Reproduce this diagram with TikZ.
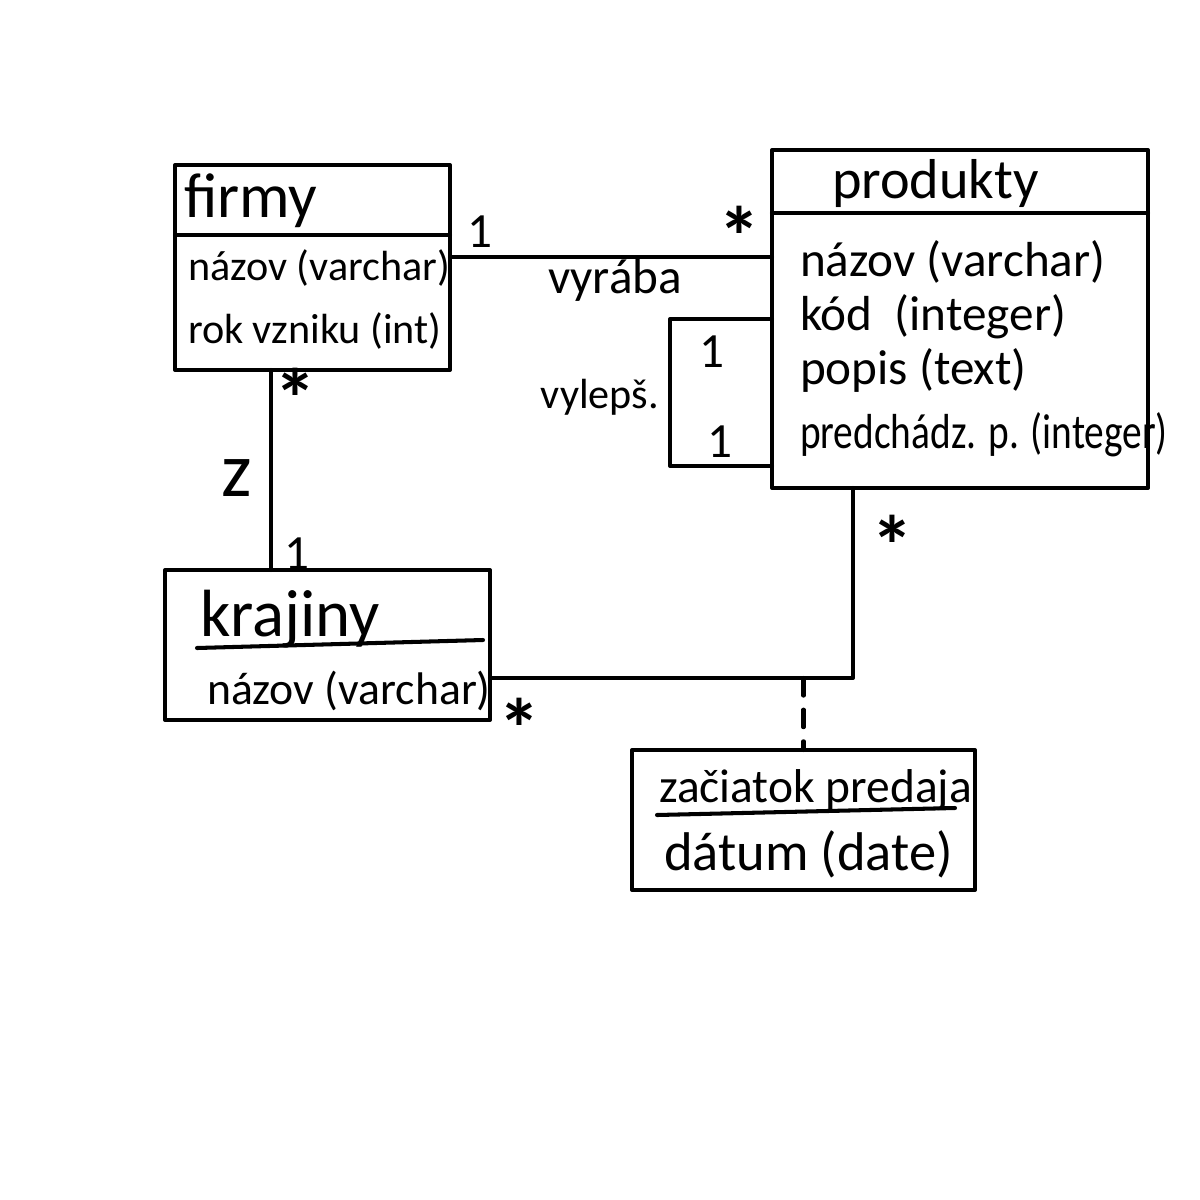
\documentclass[tikz,border=0pt]{standalone}
\usepackage{fontspec}
\setmainfont{Carlito}
\usetikzlibrary{calc}
\newcommand{\fs}[1]{\fontsize{#1}{#1}\selectfont}
\begin{document}
\begin{tikzpicture}[
  line width=1.15pt, line join=round, line cap=round,
  entity/.style={draw, rectangle, inner sep=0pt, outer sep=0pt, anchor=north west},
  label/.style={anchor=base west, inner sep=0pt},
  mult/.style={inner sep=0pt, font=\fs{14}},
  star/.style={inner sep=0pt, font=\fs{24}\bfseries},
  rel/.style={inner sep=0pt, font=\fs{14}}]

% canvas
\fill[white] (0,0) rectangle (12,-12);
\useasboundingbox (0,0) rectangle (12,-12);

% ---- entity: firmy ----
\node[entity, minimum width=2.75cm, minimum height=2.05cm] (firmy) at (1.75,-1.65) {};
\draw ($(firmy.north west)+(0,-0.70)$) -- ($(firmy.north east)+(0,-0.70)$);
\node[label, font=\fs{18}] (firmyT) at (1.82,-2.17) {firmy};
\node[label, font=\fs{12}] (firmyA1) at (1.86,-2.80) {názov (varchar)};
\node[label, font=\fs{12}] (firmyA2) at (1.86,-3.43) {rok vzniku (int)};

% ---- entity: produkty ----
\node[entity, minimum width=3.76cm, minimum height=3.38cm] (produkty) at (7.72,-1.50) {};
\draw ($(produkty.north west)+(0,-0.63)$) -- ($(produkty.north east)+(0,-0.63)$);
\node[label, font=\fs{16}] (prodT) at (8.30,-1.98) {produkty};
\node[label, font=\fs{14}] (prodA1) at (7.98,-2.76) {názov (varchar)};
\node[label, font=\fs{14}] (prodA2) at (7.98,-3.30) {kód \ (integer)};
\node[label, font=\fs{14}] (prodA3) at (7.98,-3.84) {popis (text)};
\node[label, font=\fs{14}] (prodA4) at (7.98,-4.48) {\scalebox{0.8}[1]{predchádz. p. (integer)}};

% ---- entity: krajiny ----
\node[entity, minimum width=3.25cm, minimum height=1.50cm] (krajiny) at (1.65,-5.70) {};
\node[label, font=\fs{19}] (krajT) at (1.98,-6.36) {krajiny};
\draw (1.97,-6.48) -- (4.83,-6.40);
\node[label, font=\fs{13}] (krajA1) at (2.05,-7.04) {názov (varchar)};

% ---- entity: zaciatok predaja ----
\node[entity, minimum width=3.43cm, minimum height=1.40cm] (zac) at (6.32,-7.50) {};
\node[label, font=\fs{13.5}] (zacT) at (6.57,-8.02) {začiatok predaja};
\draw (6.57,-8.15) -- (9.55,-8.08);
\node[label, font=\fs{15.5}] (zacA1) at (6.62,-8.70) {dátum (date)};

% ---- association: firmy -- produkty (vyrába) ----
\coordinate (fp) at ($(firmy.north east)!0.45!(firmy.south east)$);
\draw (fp) -- (fp -| produkty.west);
\node[mult] (m1) at (4.80,-2.32) {1};
\node[star] (m2) at (7.40,-2.36) {*};
\node[rel] (r1) at (6.15,-2.80) {vyrába};

% ---- self association: produkty (vylepš.) ----
\coordinate (loopL) at (6.70,-4.66);
\draw (produkty.west) -- (produkty.west -| loopL) -- (loopL) -- (loopL -| produkty.west);
\node[mult] (m3) at (7.12,-3.52) {1};
\node[mult] (m4) at (7.20,-4.42) {1};
\node[rel, font=\fs{12}] (r2) at (6.00,-3.97) {vylepš.};

% ---- association: firmy -- krajiny (z) ----
\coordinate (fk) at ($(firmy.south west)!0.35!(firmy.south east)$);
\draw (fk) -- (fk |- krajiny.north);
\node[star] (m5) at (2.96,-3.98) {*};
\node[rel, font=\fs{22}] (r3) at (2.37,-4.78) {z};
\node[mult] (m6) at (2.97,-5.54) {1};

% ---- association: krajiny -- produkty ----
\coordinate (kp) at ($(krajiny.north east)!0.72!(krajiny.south east)$);
\coordinate (pk) at ($(produkty.south west)!0.215!(produkty.south east)$);
\draw (kp) -| (pk);
\node[star] (m7) at (5.20,-7.28) {*};
\node[star] (m8) at (8.93,-5.45) {*};

% ---- association class link ----
\coordinate (assoc) at (kp -| zac.north);
\draw[dashed, dash pattern=on 5pt off 4pt] (assoc) -- (zac.north);

\end{tikzpicture}
\end{document}
